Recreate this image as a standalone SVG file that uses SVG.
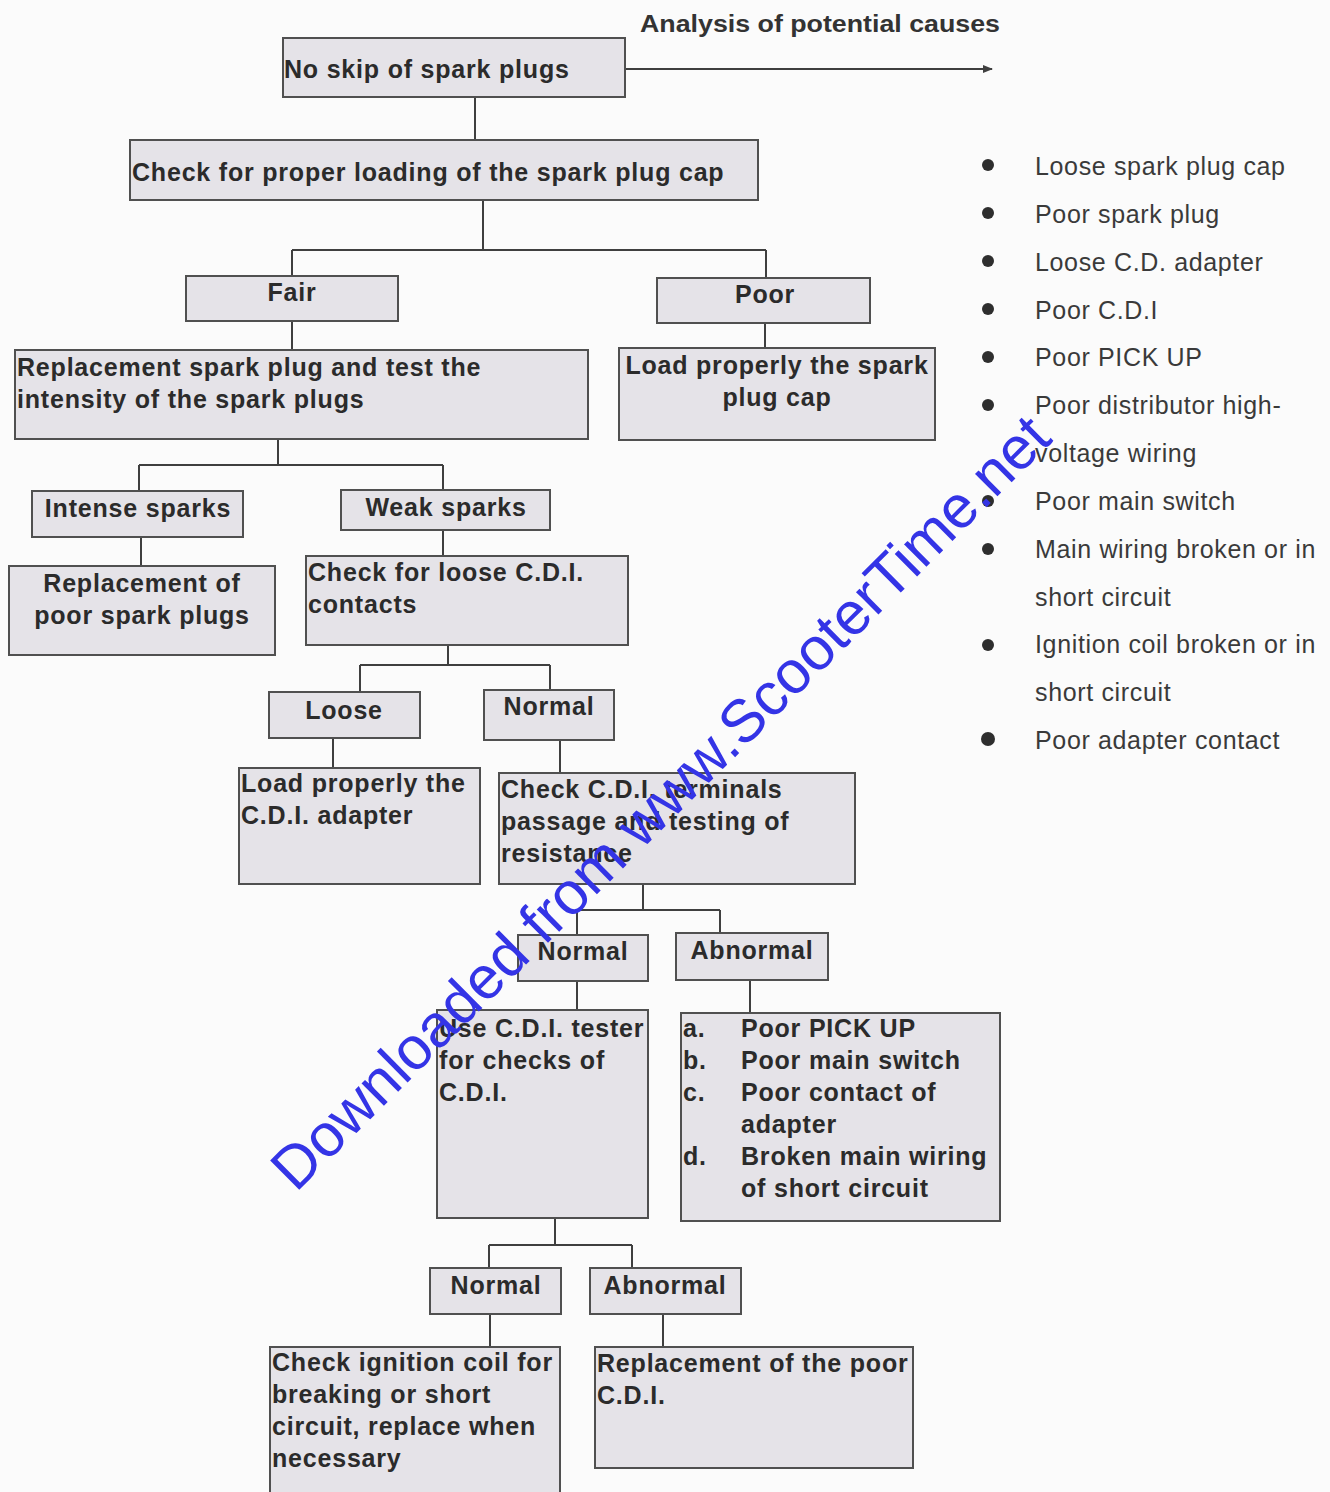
<svg xmlns="http://www.w3.org/2000/svg" width="1330" height="1492" viewBox="0 0 1330 1492">
<style>
.bg{fill:#fbfbfb}
.box{fill:#e5e3e8;stroke:#505050;stroke-width:2}
.t{font-family:"Liberation Sans",Arial,sans-serif;font-weight:bold;font-size:25px;fill:#2b2b2b;letter-spacing:0.8px}
.c{text-anchor:middle}
.l{font-family:"Liberation Sans",Arial,sans-serif;font-size:25px;fill:#3a3a3a;letter-spacing:0.65px}
.h{font-family:"Liberation Sans",Arial,sans-serif;font-weight:bold;font-size:23px;fill:#333}
.ln{fill:none;stroke:#3f3f3f;stroke-width:2}
.dot{fill:#2e2e2e}
.wm{font-family:"Liberation Sans",Arial,sans-serif;font-size:60px;fill:#3434e6;text-anchor:middle}
</style>
<defs>
<marker id="ah" markerWidth="10" markerHeight="10" refX="9" refY="5" orient="auto" markerUnits="userSpaceOnUse">
<path d="M0,1 L10,5 L0,9 Z" fill="#3f3f3f"/>
</marker>
</defs>
<rect class="bg" x="0" y="0" width="1330" height="1492"/>

<g id="connectors">
<path class="ln" d="M625,69 H992" marker-end="url(#ah)"/>
<path class="ln" d="M475,97 V140"/>
<path class="ln" d="M483,200 V250 M292,250 H766 M292,250 V276 M766,250 V278"/>
<path class="ln" d="M292,321 V350"/>
<path class="ln" d="M765,323 V348"/>
<path class="ln" d="M278,439 V465 M139,465 H443 M139,465 V491 M443,465 V490"/>
<path class="ln" d="M141,537 V566"/>
<path class="ln" d="M443,530 V556"/>
<path class="ln" d="M448,645 V665 M360,665 H550 M360,665 V692 M550,665 V690"/>
<path class="ln" d="M333,738 V768"/>
<path class="ln" d="M560,740 V773"/>
<path class="ln" d="M643,884 V910 M577,910 H720 M577,910 V935 M720,910 V933"/>
<path class="ln" d="M577,981 V1010"/>
<path class="ln" d="M750,980 V1013"/>
<path class="ln" d="M555,1218 V1245 M489,1245 H632 M489,1245 V1268 M632,1245 V1268"/>
<path class="ln" d="M490,1314 V1347"/>
<path class="ln" d="M663,1314 V1347"/>
</g>

<g id="header">
<text class="h" x="640" y="32" textLength="360" lengthAdjust="spacingAndGlyphs">Analysis of potential causes</text>
</g>

<g id="n1"><rect class="box" x="283" y="38" width="342" height="59"/><text class="t" x="284" y="78">No skip of spark plugs</text></g>
<g id="n2"><rect class="box" x="130" y="140" width="628" height="60"/><text class="t" x="132" y="181">Check for proper loading of the spark plug cap</text></g>
<g id="n3"><rect class="box" x="186" y="276" width="212" height="45"/><text class="t c" x="292" y="301">Fair</text></g>
<g id="n4"><rect class="box" x="657" y="278" width="213" height="45"/><text class="t c" x="765" y="303">Poor</text></g>
<g id="n5"><rect class="box" x="15" y="350" width="573" height="89"/><text class="t" x="17" y="376">Replacement spark plug and test the</text><text class="t" x="17" y="408">intensity of the spark plugs</text></g>
<g id="n6"><rect class="box" x="619" y="348" width="316" height="92"/><text class="t c" x="777" y="374">Load properly the spark</text><text class="t c" x="777" y="406">plug cap</text></g>
<g id="n7"><rect class="box" x="32" y="491" width="211" height="46"/><text class="t c" x="138" y="517">Intense sparks</text></g>
<g id="n8"><rect class="box" x="341" y="490" width="209" height="40"/><text class="t c" x="446" y="516">Weak sparks</text></g>
<g id="n9"><rect class="box" x="9" y="566" width="266" height="89"/><text class="t c" x="142" y="592">Replacement of</text><text class="t c" x="142" y="624">poor spark plugs</text></g>
<g id="n10"><rect class="box" x="306" y="556" width="322" height="89"/><text class="t" x="308" y="581">Check for loose C.D.I.</text><text class="t" x="308" y="613">contacts</text></g>
<g id="n11"><rect class="box" x="269" y="692" width="151" height="46"/><text class="t c" x="344" y="719">Loose</text></g>
<g id="n12"><rect class="box" x="484" y="690" width="130" height="50"/><text class="t c" x="549" y="715">Normal</text></g>
<g id="n13"><rect class="box" x="239" y="768" width="241" height="116"/><text class="t" x="241" y="792">Load properly the</text><text class="t" x="241" y="824">C.D.I. adapter</text></g>
<g id="n14"><rect class="box" x="499" y="773" width="356" height="111"/><text class="t" x="501" y="798">Check C.D.I. terminals</text><text class="t" x="501" y="830">passage and testing of</text><text class="t" x="501" y="862">resistance</text></g>
<g id="n15"><rect class="box" x="518" y="935" width="130" height="46"/><text class="t c" x="583" y="960">Normal</text></g>
<g id="n16"><rect class="box" x="676" y="933" width="152" height="47"/><text class="t c" x="752" y="959">Abnormal</text></g>
<g id="n17"><rect class="box" x="437" y="1010" width="211" height="208"/><text class="t" x="439" y="1037">Use C.D.I. tester</text><text class="t" x="439" y="1069">for checks of</text><text class="t" x="439" y="1101">C.D.I.</text></g>
<g id="n18"><rect class="box" x="681" y="1013" width="319" height="208"/>
<text class="t" x="683" y="1037">a.</text><text class="t" x="741" y="1037">Poor PICK UP</text>
<text class="t" x="683" y="1069">b.</text><text class="t" x="741" y="1069">Poor main switch</text>
<text class="t" x="683" y="1101">c.</text><text class="t" x="741" y="1101">Poor contact of</text>
<text class="t" x="741" y="1133">adapter</text>
<text class="t" x="683" y="1165">d.</text><text class="t" x="741" y="1165">Broken main wiring</text>
<text class="t" x="741" y="1197">of short circuit</text></g>
<g id="n19"><rect class="box" x="430" y="1268" width="131" height="46"/><text class="t c" x="496" y="1294">Normal</text></g>
<g id="n20"><rect class="box" x="590" y="1268" width="151" height="46"/><text class="t c" x="665" y="1294">Abnormal</text></g>
<g id="n21"><rect class="box" x="270" y="1347" width="290" height="160"/><text class="t" x="272" y="1371">Check ignition coil for</text><text class="t" x="272" y="1403">breaking or short</text><text class="t" x="272" y="1435">circuit, replace when</text><text class="t" x="272" y="1467">necessary</text></g>
<g id="n22"><rect class="box" x="595" y="1347" width="318" height="121"/><text class="t" x="597" y="1372">Replacement of the poor</text><text class="t" x="597" y="1404">C.D.I.</text></g>

<g id="causes">
<circle class="dot" cx="988" cy="165" r="6"/><text class="l" x="1035" y="175">Loose spark plug cap</text>
<circle class="dot" cx="988" cy="213" r="6"/><text class="l" x="1035" y="223">Poor spark plug</text>
<circle class="dot" cx="988" cy="261" r="6"/><text class="l" x="1035" y="271">Loose C.D. adapter</text>
<circle class="dot" cx="988" cy="309" r="6"/><text class="l" x="1035" y="319">Poor C.D.I</text>
<circle class="dot" cx="988" cy="357" r="6"/><text class="l" x="1035" y="366">Poor PICK UP</text>
<circle class="dot" cx="988" cy="405" r="6"/><text class="l" x="1035" y="414">Poor distributor high-</text>
<text class="l" x="1035" y="462">voltage wiring</text>
<circle class="dot" cx="988" cy="501" r="6"/><text class="l" x="1035" y="510">Poor main switch</text>
<circle class="dot" cx="988" cy="549" r="6"/><text class="l" x="1035" y="558">Main wiring broken or in</text>
<text class="l" x="1035" y="606">short circuit</text>
<circle class="dot" cx="988" cy="645" r="6"/><text class="l" x="1035" y="653">Ignition coil broken or in</text>
<text class="l" x="1035" y="701">short circuit</text>
<circle class="dot" cx="988" cy="739" r="7"/><text class="l" x="1035" y="749">Poor adapter contact</text>
</g>

<g id="watermark">
<text class="wm" x="660" y="823" transform="rotate(-44.8 660 802)">Downloaded from www.ScooterTime.net</text>
</g>
</svg>
